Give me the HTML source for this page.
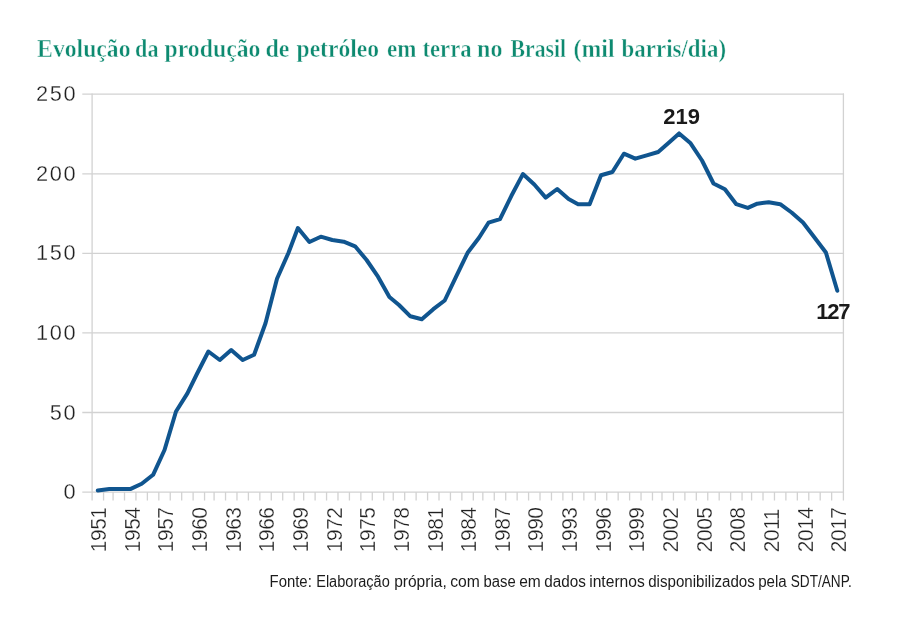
<!DOCTYPE html>
<html lang="pt-BR">
<head>
<meta charset="utf-8">
<title>Evolução da produção de petróleo em terra no Brasil (mil barris/dia)</title>
<style>
html,body{margin:0;padding:0;background:#fff;}
body{width:900px;height:618px;overflow:hidden;position:relative;}
svg{position:absolute;left:0;top:0;display:block;}
.title{font-family:"Liberation Serif",serif;font-size:25px;font-weight:bold;fill:#0d8a70;stroke:#fff;stroke-width:0.45px;}
.ax{font-family:"Liberation Sans",sans-serif;font-size:22.5px;fill:#202020;stroke:#fff;stroke-width:0.3px;}
.val{font-family:"Liberation Sans",sans-serif;font-weight:bold;font-size:22px;fill:#1a1a1a;}
.src{font-family:"Liberation Sans",sans-serif;font-size:15.8px;fill:#1c1c1c;}
</style>
</head>
<body>
<svg width="900" height="618" viewBox="0 0 900 618">

<text class="title" y="56.6"><tspan x="37.1" textLength="93.4" lengthAdjust="spacingAndGlyphs">Evolução</tspan> <tspan x="135.1" textLength="23.4" lengthAdjust="spacingAndGlyphs">da</tspan> <tspan x="164.5" textLength="96.0" lengthAdjust="spacingAndGlyphs">produção</tspan> <tspan x="265.5" textLength="24.0" lengthAdjust="spacingAndGlyphs">de</tspan> <tspan x="296.5" textLength="82.6" lengthAdjust="spacingAndGlyphs">petróleo</tspan> <tspan x="387.1" textLength="29.4" lengthAdjust="spacingAndGlyphs">em</tspan> <tspan x="422.5" textLength="49.0" lengthAdjust="spacingAndGlyphs">terra</tspan> <tspan x="477.1" textLength="25.4" lengthAdjust="spacingAndGlyphs">no</tspan> <tspan x="510.5" textLength="55.6" lengthAdjust="spacingAndGlyphs">Brasil</tspan> <tspan x="573.5" textLength="41.0" lengthAdjust="spacingAndGlyphs">(mil</tspan> <tspan x="621.5" textLength="104.6" lengthAdjust="spacingAndGlyphs">barris/dia)</tspan></text>
<g stroke="#d2d2d2" stroke-width="1.3" fill="none">
<line x1="82.3" y1="492.10" x2="844.05" y2="492.10"/>
<line x1="82.3" y1="412.52" x2="844.05" y2="412.52"/>
<line x1="82.3" y1="332.94" x2="844.05" y2="332.94"/>
<line x1="82.3" y1="253.36" x2="844.05" y2="253.36"/>
<line x1="82.3" y1="173.78" x2="844.05" y2="173.78"/>
<line x1="82.3" y1="94.20" x2="844.05" y2="94.20"/>
<line x1="92.10" y1="93.55" x2="92.10" y2="500.6"/>
<line x1="843.40" y1="93.55" x2="843.40" y2="500.6"/>
<path d="M103.55 492.10V500.6M113.08 492.10V500.6M124.51 492.10V500.6M135.95 492.10V500.6M147.38 492.10V500.6M158.82 492.10V500.6M170.26 492.10V500.6M181.69 492.10V500.6M193.13 492.10V500.6M204.56 492.10V500.6M214.09 492.10V500.6M225.53 492.10V500.6M236.97 492.10V500.6M248.40 492.10V500.6M259.84 492.10V500.6M271.27 492.10V500.6M282.71 492.10V500.6M294.15 492.10V500.6M303.68 492.10V500.6M315.11 492.10V500.6M326.55 492.10V500.6M337.98 492.10V500.6M349.42 492.10V500.6M360.86 492.10V500.6M372.29 492.10V500.6M383.73 492.10V500.6M393.26 492.10V500.6M404.69 492.10V500.6M416.13 492.10V500.6M427.57 492.10V500.6M439.00 492.10V500.6M450.44 492.10V500.6M461.87 492.10V500.6M473.31 492.10V500.6M482.84 492.10V500.6M494.28 492.10V500.6M505.71 492.10V500.6M517.15 492.10V500.6M528.58 492.10V500.6M540.02 492.10V500.6M551.46 492.10V500.6M562.89 492.10V500.6M572.42 492.10V500.6M583.86 492.10V500.6M595.29 492.10V500.6M606.73 492.10V500.6M618.17 492.10V500.6M629.60 492.10V500.6M641.04 492.10V500.6M652.47 492.10V500.6M662.00 492.10V500.6M673.44 492.10V500.6M684.88 492.10V500.6M696.31 492.10V500.6M707.75 492.10V500.6M719.18 492.10V500.6M730.62 492.10V500.6M742.06 492.10V500.6M751.59 492.10V500.6M763.02 492.10V500.6M774.46 492.10V500.6M785.89 492.10V500.6M797.33 492.10V500.6M808.77 492.10V500.6M820.20 492.10V500.6M831.64 492.10V500.6"/>
</g>
<g class="ax" text-anchor="end">
<text transform="translate(77.1 499.10) scale(0.97 1)" letter-spacing="1.6">0</text>
<text transform="translate(77.1 419.52) scale(0.97 1)" letter-spacing="1.6">50</text>
<text transform="translate(77.1 339.94) scale(0.97 1)" letter-spacing="1.6">100</text>
<text transform="translate(77.1 260.36) scale(0.97 1)" letter-spacing="1.6">150</text>
<text transform="translate(77.1 180.78) scale(0.97 1)" letter-spacing="1.6">200</text>
<text transform="translate(77.1 101.20) scale(0.97 1)" letter-spacing="1.6">250</text>
</g>
<g class="ax">
<text transform="translate(106.1 552.2) rotate(-90) scale(0.93 1)" letter-spacing="-0.5">1951</text>
<text transform="translate(139.7 552.2) rotate(-90) scale(0.93 1)" letter-spacing="-0.5">1954</text>
<text transform="translate(173.4 552.2) rotate(-90) scale(0.93 1)" letter-spacing="-0.5">1957</text>
<text transform="translate(207.0 552.2) rotate(-90) scale(0.93 1)" letter-spacing="-0.5">1960</text>
<text transform="translate(240.7 552.2) rotate(-90) scale(0.93 1)" letter-spacing="-0.5">1963</text>
<text transform="translate(274.3 552.2) rotate(-90) scale(0.93 1)" letter-spacing="-0.5">1966</text>
<text transform="translate(307.9 552.2) rotate(-90) scale(0.93 1)" letter-spacing="-0.5">1969</text>
<text transform="translate(341.6 552.2) rotate(-90) scale(0.93 1)" letter-spacing="-0.5">1972</text>
<text transform="translate(375.2 552.2) rotate(-90) scale(0.93 1)" letter-spacing="-0.5">1975</text>
<text transform="translate(408.9 552.2) rotate(-90) scale(0.93 1)" letter-spacing="-0.5">1978</text>
<text transform="translate(442.5 552.2) rotate(-90) scale(0.93 1)" letter-spacing="-0.5">1981</text>
<text transform="translate(476.1 552.2) rotate(-90) scale(0.93 1)" letter-spacing="-0.5">1984</text>
<text transform="translate(509.8 552.2) rotate(-90) scale(0.93 1)" letter-spacing="-0.5">1987</text>
<text transform="translate(543.4 552.2) rotate(-90) scale(0.93 1)" letter-spacing="-0.5">1990</text>
<text transform="translate(577.1 552.2) rotate(-90) scale(0.93 1)" letter-spacing="-0.5">1993</text>
<text transform="translate(610.7 552.2) rotate(-90) scale(0.93 1)" letter-spacing="-0.5">1996</text>
<text transform="translate(644.4 552.2) rotate(-90) scale(0.93 1)" letter-spacing="-0.5">1999</text>
<text transform="translate(678.0 552.2) rotate(-90) scale(0.93 1)" letter-spacing="-0.5">2002</text>
<text transform="translate(711.6 552.2) rotate(-90) scale(0.93 1)" letter-spacing="-0.5">2005</text>
<text transform="translate(745.3 552.2) rotate(-90) scale(0.93 1)" letter-spacing="-0.5">2008</text>
<text transform="translate(778.9 552.2) rotate(-90) scale(0.93 1)" letter-spacing="-0.5">2011</text>
<text transform="translate(812.6 552.2) rotate(-90) scale(0.93 1)" letter-spacing="-0.5">2014</text>
<text transform="translate(846.2 552.2) rotate(-90) scale(0.93 1)" letter-spacing="-0.5">2017</text>
</g>
<polyline points="97.8,490.4 109.3,489.0 118.8,489.1 130.2,489.1 141.7,483.8 153.1,474.8 164.5,450.0 176.0,411.5 187.4,393.4 196.9,374.0 208.4,351.5 219.8,360.0 231.2,350.1 242.7,360.0 254.1,354.7 265.5,323.3 277.0,278.8 288.4,253.0 297.9,228.0 309.4,242.0 320.8,236.7 332.3,240.0 343.7,241.7 355.1,246.3 366.6,260.0 378.0,276.7 389.4,297.0 399.0,305.0 410.4,316.3 421.8,319.2 433.3,309.2 444.7,300.5 456.1,276.7 467.6,252.8 479.0,237.8 488.5,222.7 500.0,219.2 511.4,195.8 522.9,174.1 534.3,184.5 545.7,197.6 557.2,189.0 568.6,199.1 578.1,204.2 589.6,204.2 601.0,175.2 612.4,172.0 623.9,153.7 635.3,158.7 646.7,155.3 658.2,152.0 669.6,142.0 679.1,133.4 690.6,143.3 702.0,160.5 713.5,183.5 724.9,189.2 736.3,204.2 747.8,207.9 757.3,203.7 768.7,202.2 780.2,204.2 791.6,212.5 803.0,222.5 814.5,237.5 825.9,252.5 837.3,290.8" fill="none" stroke="#10558f" stroke-width="4" stroke-linejoin="round" stroke-linecap="round"/>
<g class="val">
<text x="663.2" y="123.8" letter-spacing="0">219</text>
<text x="816.3" y="319.2" letter-spacing="-1.3">127</text>
</g>
<text class="src" y="587.0"><tspan x="269.6" textLength="42.2" lengthAdjust="spacingAndGlyphs">Fonte:</tspan> <tspan x="316.2" textLength="73.6" lengthAdjust="spacingAndGlyphs">Elaboração</tspan> <tspan x="394.2" textLength="52.6" lengthAdjust="spacingAndGlyphs">própria,</tspan> <tspan x="450.2" textLength="29.6" lengthAdjust="spacingAndGlyphs">com</tspan> <tspan x="483.6" textLength="32.2" lengthAdjust="spacingAndGlyphs">base</tspan> <tspan x="519.2" textLength="21.6" lengthAdjust="spacingAndGlyphs">em</tspan> <tspan x="544.2" textLength="41.6" lengthAdjust="spacingAndGlyphs">dados</tspan> <tspan x="589.2" textLength="55.6" lengthAdjust="spacingAndGlyphs">internos</tspan> <tspan x="648.2" textLength="106.6" lengthAdjust="spacingAndGlyphs">disponibilizados</tspan> <tspan x="758.2" textLength="28.6" lengthAdjust="spacingAndGlyphs">pela</tspan> <tspan x="790.8" textLength="61.0" lengthAdjust="spacingAndGlyphs">SDT/ANP.</tspan></text>
</svg>
</body>
</html>
